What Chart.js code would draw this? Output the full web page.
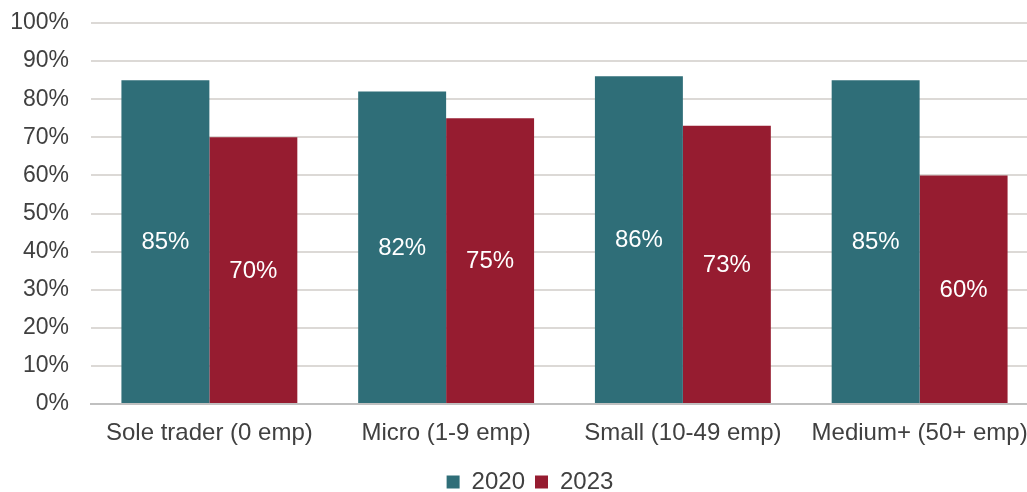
<!DOCTYPE html>
<html>
<head>
<meta charset="utf-8">
<script src="https://cdn.jsdelivr.net/npm/chart.js@4/dist/chart.umd.min.js"></script>
<style>
  html, body { margin: 0; padding: 0; background: #ffffff; overflow: hidden; }
  #wrap { width: 1038px; height: 492px; position: relative; }
</style>
</head>
<body>
<div id="wrap"><canvas id="c"></canvas></div>
<script>
// Share of businesses by size band, 2020 vs 2023 (percent)
const categories = ['Sole trader (0 emp)', 'Micro (1-9 emp)', 'Small (10-49 emp)', 'Medium+ (50+ emp)'];
const values2020 = [85, 82, 86, 85];
const values2023 = [70, 75, 73, 60];
const seriesNames = ['2020', '2023'];
const yTicks = [0, 10, 20, 30, 40, 50, 60, 70, 80, 90, 100];

const FONT = '"Liberation Sans", Arial, sans-serif';

// Writes each bar's value in white at the middle of the bar
const barValueLabels = {
  id: 'barValueLabels',
  afterDatasetsDraw(chart) {
    const ctx = chart.ctx;
    ctx.save();
    ctx.font = '24px ' + FONT;
    ctx.fillStyle = '#ffffff';
    ctx.textAlign = 'center';
    ctx.textBaseline = 'middle';
    chart.data.datasets.forEach((ds, i) => {
      const meta = chart.getDatasetMeta(i);
      meta.data.forEach((bar, j) => {
        const y = (bar.y + bar.base) / 2;
        ctx.fillText(ds.data[j] + '%', bar.x, y + 1);
      });
    });
    ctx.restore();
  }
};

// Nudges the legend block after layout and lets it run to the canvas bottom
const legendNudge = {
  id: 'legendNudge',
  afterLayout(chart) {
    const lg = chart.legend;
    if (!lg) return;
    const dx = 11, dy = -2;
    lg.left += dx; lg.right += dx;
    lg.top += dy;
    lg.bottom = chart.height;
    lg.height = lg.bottom - lg.top;
  }
};

new Chart(document.getElementById('c'), {
  type: 'bar',
  data: {
    labels: categories,
    datasets: [
      { label: seriesNames[0], data: values2020, backgroundColor: '#2F6E78' },
      { label: seriesNames[1], data: values2023, backgroundColor: '#961C30' }
    ]
  },
  options: {
    responsive: true,
    maintainAspectRatio: false,
    animation: false,
    layout: { padding: { top: 23, right: 0, bottom: 0, left: 0 } },
    datasets: { bar: { categoryPercentage: 0.743, barPercentage: 1.0 } },
    scales: {
      x: {
        grid: { display: false, drawTicks: false },
        border: { display: true, color: '#c0c0c0', width: 2 },
        ticks: { color: '#404040', font: { family: FONT, size: 24 }, padding: 15, maxRotation: 0 },
        afterFit(axis) { axis.height = 58; axis.paddingLeft = 0; axis.paddingRight = 0; }
      },
      y: {
        min: 0, max: 100,
        afterBuildTicks(axis) { axis.ticks = yTicks.map(v => ({ value: v })); },
        afterFit(axis) { axis.width = 91; axis.paddingTop = 0; axis.paddingBottom = 0; },
        grid: { color: '#dcd9d6', lineWidth: 2, drawTicks: false },
        border: { display: false },
        ticks: {
          color: '#404040', font: { family: FONT, size: 23 }, padding: 22,
          callback: v => v + '%'
        }
      }
    },
    plugins: {
      legend: {
        position: 'bottom',
        maxHeight: 30,
        labels: {
          color: '#404040', font: { family: FONT, size: 24 },
          boxWidth: 13, boxHeight: 13, padding: 10
        }
      },
      tooltip: { enabled: false }
    }
  },
  plugins: [barValueLabels, legendNudge]
});
</script>
</body>
</html>
